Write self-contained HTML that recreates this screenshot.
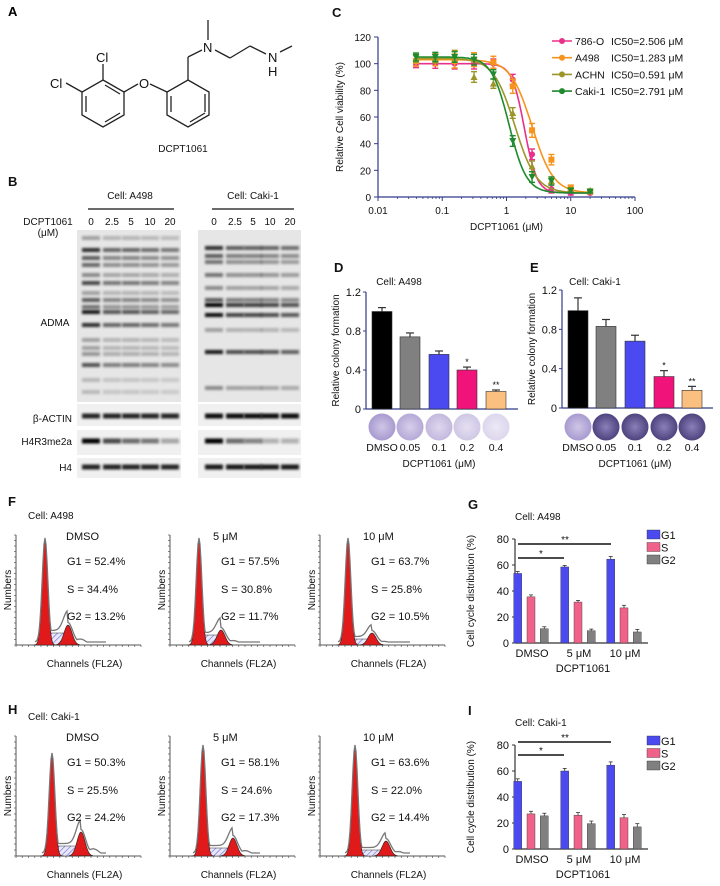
<!DOCTYPE html>
<html><head><meta charset="utf-8"><style>
body{margin:0;background:#fff}
svg{display:block;font-family:"Liberation Sans",Arial,sans-serif}
</style></head><body>
<svg id="fig" width="720" height="886" viewBox="0 0 720 886" xmlns="http://www.w3.org/2000/svg">
<defs>
<filter id="blur" x="-10%" y="-100%" width="120%" height="300%"><feGaussianBlur stdDeviation="1.2"/></filter>
<pattern id="hatch" width="4" height="4" patternUnits="userSpaceOnUse" patternTransform="rotate(45)"><rect width="4" height="4" fill="#e8e8f8"/><line x1="0" y1="0" x2="0" y2="4" stroke="#6a6ad0" stroke-width="1.2"/></pattern>
<radialGradient id="dishL"><stop offset="0" stop-color="#cfc6e6"/><stop offset="1" stop-color="#a89ad0"/></radialGradient>
<radialGradient id="dishD"><stop offset="0" stop-color="#8a7fb8"/><stop offset="1" stop-color="#4e437e"/></radialGradient>
</defs>
<g id="panelA" fill="none" stroke="#222" stroke-width="1.3">
<text x="8" y="16" font-size="13" font-weight="bold" stroke="none" fill="#000">A</text>
<polygon points="103,80 124,92 124,115 103,127 82,115 82,92"/>
<line x1="86" y1="96" x2="86" y2="112"/><line x1="105" y1="122" x2="120" y2="113"/><line x1="105" y1="85" x2="120" y2="94"/>
<line x1="82" y1="92" x2="66" y2="83"/><line x1="103" y1="80" x2="103" y2="64"/>
<line x1="124" y1="92" x2="138" y2="84"/><line x1="150" y1="84" x2="167" y2="92"/>
<polygon points="188,80 209,92 209,115 188,127 167,115 167,92"/>
<line x1="171" y1="96" x2="171" y2="112"/><line x1="190" y1="122" x2="205" y2="113"/><line x1="205" y1="94" x2="205" y2="112"/>
<line x1="188" y1="80" x2="188" y2="57"/><line x1="188" y1="57" x2="202" y2="50"/>
<line x1="208" y1="40" x2="208" y2="20"/>
<line x1="215" y1="50" x2="230" y2="58"/><line x1="230" y1="58" x2="250" y2="46"/><line x1="250" y1="46" x2="266" y2="54"/>
<line x1="280" y1="52" x2="292" y2="46"/>
<g stroke="none" fill="#111" font-size="13">
<text x="50" y="88">Cl</text>
<text x="96" y="62">Cl</text>
<text x="139" y="88">O</text>
<text x="203" y="52">N</text>
<text x="268" y="62">N</text>
<text x="268" y="76">H</text>
<text x="183" y="152" font-size="10" text-anchor="middle">DCPT1061</text>
</g></g>
<g id="panelB"></g>
<g id="panelC"></g>
<g id="panelD"></g>
<g id="panelE"></g>
<g id="panelF"></g>
<g id="panelG"></g>
<g id="panelH"></g>
<g id="panelI"></g>
</svg>
<script>
// ---------- data ----------
const doses = [0.039,0.078,0.156,0.3125,0.625,1.25,2.5,5,10,20];
const seriesNames = ["786-O","A498","ACHN","Caki-1"];
const ic50Labels = ["IC50=2.506 μM","IC50=1.283 μM","IC50=0.591 μM","IC50=2.791 μM"];
const v786 = [100,100,100,100,100,88,32,6,3,3];
const vA498 = [102,103,102,103,101,83,50,28,7,4];
const vACHN = [104,104,106,90,85,63,23,12,5,5];
const vCaki = [105,105,105,103,92,42,15,12,5,4];
const eViab = [6,7,8,8,7,8,8,6,3,2];
const fitTop = [100,103,104,105];
const fitIC50 = [1.9,2.5,1.35,1.1];
const fitHill = [4.5,2.6,2.6,3.2];
const yTicksC = [0,20,40,60,80,100,120];
const xTicksC = [0.01,0.1,1,10,100];
const colonyCats = ["DMSO","0.05","0.1","0.2","0.4"];
const colonyA498 = [1.0,0.74,0.56,0.40,0.18];
const colonyA498Err = [0.04,0.04,0.035,0.03,0.015];
const colonyCaki = [0.99,0.83,0.68,0.32,0.18];
const colonyCakiErr = [0.13,0.07,0.06,0.06,0.04];
const colonyStars = ["","","","*","**"];
const colonyTicks = [0,0.4,0.8,1.2];
const cycleCats = ["DMSO","5 μM","10 μM"];
const phases = ["G1","S","G2"];
const g1A498 = [53.5,58.5,64.5], sA498 = [35.5,31.5,27], g2A498 = [11,9.5,8.5];
const g1Caki = [52,60,64.5], sCaki = [27,26,24], g2Caki = [25.5,19.5,17];
const errA498 = [1.5,1.2,2], errCaki = [2,2,2.5];
const cycleTicks = [0,20,40,60,80];
const flowA498G1 = [52.4,57.5,63.7], flowA498S = [34.4,30.8,25.8], flowA498G2 = [13.2,11.7,10.5];
const flowCakiG1 = [50.3,58.1,63.6], flowCakiS = [25.5,24.6,22.0], flowCakiG2 = [24.2,17.3,14.4];
const lanes = ["0","2.5","5","10","20"];
const admaA498 = [1.0,0.55,0.55,0.5,0.45];
const admaCaki = [1.0,0.6,0.58,0.55,0.5];
const h4r3A498 = [1.0,0.7,0.55,0.5,0.3];
const h4r3Caki = [1.0,0.55,0.45,0.25,0.25];

// ---------- helpers ----------
const NS="http://www.w3.org/2000/svg";
function mk(parent,tag,attrs,txt){const e=document.createElementNS(NS,tag);for(const k in attrs)e.setAttribute(k,attrs[k]);if(txt!==undefined)e.textContent=txt;parent.appendChild(e);return e;}
function T(p,x,y,s,fs,anchor,name,extra){const e=mk(p,"text",Object.assign({x:x,y:y,"font-size":fs||10,"text-anchor":anchor||"start",fill:"#111"},extra||{}),s);

return e;}
function L(p,x1,y1,x2,y2,c,w,name){const e=mk(p,"line",{x1:x1,y1:y1,x2:x2,y2:y2,stroke:c||"#000","stroke-width":w||1});

return e;}

// ---------- Panel B ----------
(function(){
const g=document.getElementById("panelB");
T(g,8,186,"B",13,"start","panel-label-b",{"font-weight":"bold"});
T(g,130,199,"Cell: A498",10,"middle","cell-title-a498");
L(g,88,209,174,209,"#111",1.2,"group-line-a498");
T(g,253,199,"Cell: Caki-1",10,"middle","cell-title-caki1");
L(g,212,209,294,209,"#111",1.2,"group-line-caki1");
T(g,48,225,"DCPT1061",10,"middle","dose-label");
T(g,48,236,"(μM)",10,"middle","dose-unit");
const lxA=[91,112,131,150,170], lxC=[214,235,253,270,290];
lanes.forEach((l,i)=>{T(g,lxA[i],225,l,10,"middle","lane-label-a498");T(g,lxC[i],225,l,10,"middle","lane-label-caki1");});
T(g,55,326,"ADMA",10,"middle","adma-label");
T(g,72,422,"β-ACTIN",10,"end","actin-label");
T(g,72,445,"H4R3me2a",10,"end","h4r3-label");
T(g,72,471,"H4",10,"end","h4-label");
function blot(x0,w,y0,h,bg,name){const r=mk(g,"rect",{x:x0,y:y0,width:w,height:h,fill:bg});

}
blot(77,104,230,172,"#e6e6e6","adma-blot-a498");blot(198,103,230,172,"#e6e6e6","adma-blot-caki1");
blot(77,104,404,22,"#f0f0f0","actin-blot-a498");blot(198,103,404,22,"#f0f0f0","actin-blot-caki1");
blot(77,104,430,25,"#f0f0f0","h4r3-blot-a498");blot(198,103,430,25,"#f0f0f0","h4r3-blot-caki1");
blot(77,104,458,20,"#f0f0f0","h4-blot-a498");blot(198,103,458,20,"#f0f0f0","h4-blot-caki1");
const bandsA=[[238,.3],[250,.8],[258,.6],[265,.55],[275,.4],[283,.7],[293,.3],[300,.6],[307,.5],[312,.9],[325,.8],[340,.3],[348,.3],[354,.35],[365,.65],[380,.2],[392,.2]];
const bandsC=[[248,.8],[256,.6],[262,.5],[275,.5],[288,.4],[300,.6],[305,1],[315,.95],[330,.3],[352,.9],[388,.4]];
function bands(lx,list,scale,name){lx.forEach((x,i)=>{list.forEach(b=>{const o=Math.min(1,b[1]*(i===0?1:scale[i]+0.15));const r=mk(g,"rect",{x:x-9,y:b[0]-2,width:18,height:4,fill:"#000",opacity:o,filter:"url(#blur)"});

});});}
bands(lxA,bandsA,admaA498,"adma-band-a498");bands(lxC,bandsC,admaCaki,"adma-band-caki1");
function single(lx,y,vals,name){lx.forEach((x,i)=>{const r=mk(g,"rect",{x:x-9,y:y-2.5,width:18,height:5,fill:"#000",opacity:vals[i],filter:"url(#blur)"});

});}
single(lxA,416,[.85,.85,.85,.85,.85],"actin-band-a498");single(lxC,416,[.95,.95,.95,.95,.95],"actin-band-caki1");
single(lxA,441,h4r3A498,"h4r3-band-a498");single(lxC,441,h4r3Caki,"h4r3-band-caki1");
single(lxA,467,[.85,.85,.85,.85,.85],"h4-band-a498");single(lxC,467,[.9,.9,.9,.9,.9],"h4-band-caki1");
})();

// ---------- Panel C ----------
(function(){
const g=document.getElementById("panelC");
const X0=378,X1=635,Y0=197,Y1=37;
const xs=v=>X0+(Math.log10(v)+2)/4*(X1-X0);
const ys=v=>Y0-v/120*(Y0-Y1);
T(g,332,17,"C",13,"start","panel-label-c",{"font-weight":"bold"});
L(g,X0,Y1,X0,Y0,"#333a8a",1.2,"y-axis");L(g,X0,Y0,X1,Y0,"#333a8a",1.2,"x-axis");
yTicksC.forEach(t=>{L(g,X0-4,ys(t),X0,ys(t),"#333a8a",1,"y-tick");T(g,X0-7,ys(t)+4,String(t),10,"end","y-tick-label");});
xTicksC.forEach(t=>{L(g,xs(t),Y0,xs(t),Y0+4,"#333a8a",1,"x-tick");T(g,xs(t),Y0+17,String(t),10,"middle","x-tick-label");});
for(let d=-2;d<2;d++)for(let k=2;k<10;k++){const x=xs(k*Math.pow(10,d));L(g,x,Y0,x,Y0+2,"#333a8a",0.8,"x-minor-tick");}
T(g,(X0+X1)/2,230,"DCPT1061 (μM)",10,"middle","x-axis-title");
T(g,343,117,"Relative Cell viability (%)",10,"middle","y-axis-title",{transform:"rotate(-90 343 117)"});
const cols=["#e8318a","#f7941d","#9c9628","#1f8a2e"];
const vals=[v786,vA498,vACHN,vCaki];
vals.forEach((vs,s)=>{
 let d="";for(let i=0;i<=120;i++){const lx=Math.log10(0.039)+i/120*(Math.log10(20)-Math.log10(0.039));const c=Math.pow(10,lx);
 const y=3+(fitTop[s]-3)/(1+Math.pow(c/fitIC50[s],fitHill[s]));d+=(i?"L":"M")+xs(c).toFixed(1)+","+ys(y).toFixed(1);}
 const p=mk(g,"path",{d:d,fill:"none",stroke:cols[s],"stroke-width":1.6});
 
 
 vs.forEach((v,i)=>{const x=xs(doses[i]),y=ys(v),e=eViab[i]/2*(s===1?1.3:1);
  L(g,x,ys(v+e),x,ys(v-e),cols[s],1.4,"error-bar");L(g,x-3,ys(v+e),x+3,ys(v+e),cols[s],1.4,"error-cap");L(g,x-3,ys(v-e),x+3,ys(v-e),cols[s],1.4,"error-cap");
  let m;
  if(s===0)m=mk(g,"circle",{cx:x,cy:y,r:3,fill:cols[s]});
  else if(s===1)m=mk(g,"rect",{x:x-3,y:y-3,width:6,height:6,fill:cols[s]});
  else if(s===2)m=mk(g,"polygon",{points:`${x},${y-3.5} ${x+3.5},${y+3} ${x-3.5},${y+3}`,fill:cols[s]});
  else m=mk(g,"polygon",{points:`${x},${y+3.5} ${x+3.5},${y-3} ${x-3.5},${y-3}`,fill:cols[s]});
  
  
 });
 const ly=41+s*16.7;
 L(g,552,ly,572,ly,cols[s],1.6,"legend-line");
 const lm=mk(g,"circle",{cx:562,cy:ly,r:3,fill:cols[s]});
 
 
 T(g,575,ly+4,seriesNames[s],10.5,"start","legend-entry-name");
 T(g,611,ly+4,ic50Labels[s],10.5,"start","legend-entry-ic50");
});
})();

// ---------- Panels D/E ----------
function colony(id,label,title,ax,y0,ytop,cx,axEnd,vals,errs,dark){
const g=document.getElementById(id);
const ys=v=>y0-v/1.2*(y0-ytop);
T(g,ax-32,272,label,13,"start","panel-label-"+label.toLowerCase(),{"font-weight":"bold"});
T(g,ax+33,285,title,10,"middle","panel-title");
L(g,ax,ytop,ax,y0,"#333a8a",1.2,"y-axis");L(g,ax,y0,axEnd,y0,"#333a8a",1.2,"x-axis");
colonyTicks.forEach(t=>{L(g,ax-3,ys(t),ax,ys(t),"#333a8a",1,"y-tick");T(g,ax-5,ys(t)+4,String(t),11,"end","y-tick-label");});
T(g,ax-27,(y0+ytop)/2,"Relative colony formation",10,"middle","y-axis-title",{transform:`rotate(-90 ${ax-27} ${(y0+ytop)/2})`});
const cols=["#000","#808080","#4a4af0","#f0137a","#fbbf80"];
vals.forEach((v,i)=>{const x=cx[i];
 const r=mk(g,"rect",{x:x-10,y:ys(v),width:20,height:y0-ys(v),fill:cols[i],stroke:"#333",  "stroke-width":0.6});
 
 
 L(g,x,ys(v),x,ys(v+errs[i]),"#333",1.2,"error-bar");L(g,x-4,ys(v+errs[i]),x+4,ys(v+errs[i]),"#333",1.2,"error-cap");
 if(colonyStars[i])T(g,x,ys(v+errs[i])-2,colonyStars[i],9,"middle","significance-star");
 const c=mk(g,"circle",{cx:x,cy:427,r:13.5,fill:dark?(i<1?"url(#dishL)":"url(#dishD)"):"url(#dishL)",opacity:dark?1:(1-i*0.15)});
 
 
 T(g,x,451,colonyCats[i],10.5,"middle","x-tick-label");
});
T(g,(cx[0]+cx[4])/2,467,"DCPT1061 (μM)",10,"middle","x-axis-title");
}
colony("panelD","D","Cell: A498",366,409,292,[382,410,439,467,496],518,colonyA498,colonyA498Err,false);
colony("panelE","E","Cell: Caki-1",562,408,290,[578,606,635,664,692],713,colonyCaki,colonyCakiErr,true);

// ---------- Panels F/H ----------
function flow(id,label,title,base,top,tY,g1,s,g2,peaks,letterY){
const g=document.getElementById(id);
T(g,8,letterY,label,13,"start","panel-label-"+label.toLowerCase(),{"font-weight":"bold"});
T(g,28,top-16,title,10,"start","panel-title");
const axX=[16,170,320];
cycleCats.forEach((c,k)=>{
 const x0=axX[k],w=125;
 L(g,x0,top,x0,base,"#555",1,"y-axis");L(g,x0,base,x0+w,base,"#555",1,"x-axis");
 for(let t=0;t<=20;t++)L(g,x0+t*w/20,base,x0+t*w/20,base+2,"#555",0.7,"x-tick");
 for(let t=0;t<=20;t++)L(g,x0,top+t*(base-top)/20,x0-2,top+t*(base-top)/20,"#555",0.7,"y-tick");
 const p=peaks[k];const px1=x0+p[0],px2=x0+p[2],h1=p[1],h2=p[3],sh=p[4];
 const sx=[];for(let x=px1-10;x<=x0+90;x+=1)sx.push(x);
 const gss=(x,m,sd,h)=>h*Math.exp(-0.5*Math.pow((x-m)/sd,2));
 const plat=x=>(x>px1&&x<px2)?sh:0;
 let dS="M"+px1+","+base;for(let x=px1;x<=px2;x++)dS+="L"+x+","+(base-plat(x));dS+="L"+px2+","+base+"Z";
 const hs=mk(g,"path",{d:dS,fill:"url(#hatch)",stroke:"#333","stroke-width":0.6});
 
 
 [[px1,2.8,h1],[px2,4,h2]].forEach((q,j)=>{let d="M"+(q[0]-12)+","+base;for(let x=q[0]-12;x<=q[0]+12;x+=0.5)d+="L"+x+","+(base-gss(x,q[0],q[1],q[2])).toFixed(1);d+="Z";
  const r=mk(g,"path",{d:d,fill:"#e0191b",stroke:"#222","stroke-width":0.6});
  
  });
 let dT="";sx.forEach((x,i)=>{const y=base-Math.max(gss(x,px1,2.8,h1)+3,gss(x,px2,4.5,h2)+plat(x)+2.5,gss(x,px2+12,6,h2*0.3),1);dT+=(i?"L":"M")+x+","+y.toFixed(1);});
 const tp=mk(g,"path",{d:dT,fill:"none",stroke:"#777","stroke-width":1.3});
 
 
 T(g,x0+(k===0?50:43),tY,c,11,"start","condition-title");
 T(g,x0+51,tY+25,"G1 = "+g1[k].toFixed(1)+"%",11,"start","g1-percent");
 T(g,x0+51,tY+53,"S = "+s[k].toFixed(1)+"%",11,"start","s-percent");
 T(g,x0+51,tY+80,"G2 = "+g2[k].toFixed(1)+"%",11,"start","g2-percent");
 T(g,x0-5,(top+base)/2,"Numbers",10,"middle","y-axis-title",{transform:`rotate(-90 ${x0-5} ${(top+base)/2})`});
 T(g,x0+w/2+6,base+22,"Channels (FL2A)",10,"middle","x-axis-title");
});
}
flow("panelF","F","Cell: A498",645,535,540,flowA498G1,flowA498S,flowA498G2,[[29,104,52,20,12],[29,104,51,15,10],[28,104,52,12,6]],506);
flow("panelH","H","Cell: Caki-1",856,736,741,flowCakiG1,flowCakiS,flowCakiG2,[[36,100,65,24,10],[33,108,63,18,8],[35,108,66,15,6]],714);

// ---------- Panels G/I ----------
function cycle(id,label,title,y0,y80,g1,s,g2,err,lineY2,lineY1){
const g=document.getElementById(id);
const ax=515,axEnd=648;
const ys=v=>y0-v/80*(y0-y80);
T(g,468,y80-30,label,13,"start","panel-label-"+label.toLowerCase(),{"font-weight":"bold"});
T(g,515,y80-19,title,10,"start","panel-title");
L(g,ax,y80,ax,y0,"#333",1.2,"y-axis");L(g,ax,y0,axEnd,y0,"#333",1.2,"x-axis");
cycleTicks.forEach(t=>{L(g,ax-3,ys(t),ax,ys(t),"#333",1,"y-tick");T(g,ax-6,ys(t)+4,String(t),11,"end","y-tick-label");});
T(g,474,(y0+y80)/2,"Cell cycle distribution (%)",10,"middle","y-axis-title",{transform:`rotate(-90 474 ${(y0+y80)/2})`});
const cols=["#4a4af0","#f0628a","#808080"];
const gx=[531,578,624];
[g1,s,g2].forEach((arr,p)=>{arr.forEach((v,k)=>{const x=gx[k]+(p-1)*13.3;
 const r=mk(g,"rect",{x:x-4,y:ys(v),width:8,height:y0-ys(v),fill:cols[p],stroke:"#333","stroke-width":0.4});
 
 
 L(g,x,ys(v),x,ys(v+err[k]),"#333",0.8,"error-bar");L(g,x-2,ys(v+err[k]),x+2,ys(v+err[k]),"#333",0.8,"error-cap");
});});
cycleCats.forEach((c,k)=>T(g,gx[k]+1,y0+14,c,11,"middle","x-tick-label"));
T(g,583,y0+29,"DCPT1061",11,"middle","x-axis-title");
L(g,518,lineY2,611,lineY2,"#111",1.5,"significance-line-10um");T(g,565,lineY2-1,"**",10,"middle","significance-star");
L(g,518,lineY1,564,lineY1,"#111",1.5,"significance-line-5um");T(g,541,lineY1-1,"*",10,"middle","significance-star");
phases.forEach((ph,p)=>{const ly=y80-5+p*12.5;const r=mk(g,"rect",{x:647,y:ly-4,width:13,height:9,fill:cols[p],stroke:"#333","stroke-width":0.4});
 
 
 T(g,661,ly+5,ph,11,"start","legend-entry-"+ph);});
}
cycle("panelG","G","Cell: A498",643,539,g1A498,sA498,g2A498,errA498,544,558);
cycle("panelI","I","Cell: Caki-1",849,745,g1Caki,sCaki,g2Caki,errCaki,742,755);
</script>
</body></html>
